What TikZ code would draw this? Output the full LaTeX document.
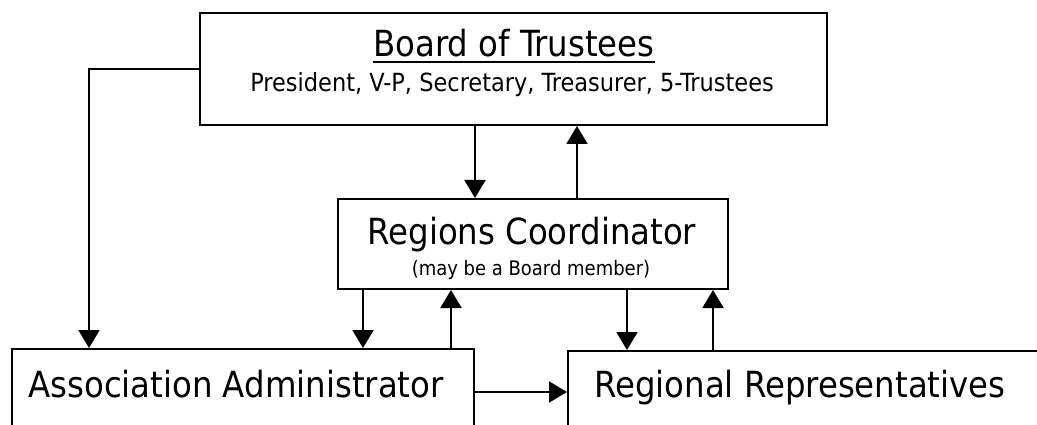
\documentclass[tikz,border=0pt]{standalone}
\usepackage{fontspec}
\setmainfont{DejaVu Sans Condensed}
\usetikzlibrary{arrows.meta}
\tikzset{
  box/.style={draw, line width=2pt, inner sep=0pt, anchor=north west},
  conn/.style={line width=2pt, -{Triangle[width=21pt,length=18pt]}},
  big/.style={font=\fontsize{36}{40}\selectfont, inner sep=0pt, anchor=base},
  subA/.style={font=\fontsize{25}{28}\selectfont, inner sep=0pt, anchor=base},
  subB/.style={font=\fontsize{20}{24}\selectfont, inner sep=0pt, anchor=base},
}
\begin{document}
\begin{tikzpicture}[x=1pt,y=-1pt]
\useasboundingbox (0,0) rectangle (1037,425);
\clip (0,0) rectangle (1037,425);
% boxes
\node[box, minimum width=627pt, minimum height=112pt] (board) at (199,12) {};
\node[box, minimum width=390pt, minimum height=90pt] (rc) at (337,198) {};
\node[box, minimum width=462pt, minimum height=120pt] (admin) at (11,348) {};
\node[box, minimum width=600pt, minimum height=120pt] (rr) at (567,350) {};
% texts
\node[big] (bt) at (514,57) {Board of Trustees};
\draw[line width=1.5pt] ([yshift=-5pt]bt.base west) -- ([yshift=-5pt]bt.base east);
\node[subA] (bs) at (512,92) {President, V-P, Secretary, Treasurer, 5-Trustees};
\node[big] (rct) at (532,244) {Regions Coordinator};
\node[subB] (rcs) at (531,275) {(may be a Board member)};
\node[big] (at) at (236,397) {Association Administrator};
\node[big] (rrt) at (800,397) {Regional Representatives};
% connectors
\draw[conn] (board.west) -| ([xshift=78pt]admin.north west);
\draw[conn] ([xshift=276pt]board.south west) -- ([xshift=138pt]rc.north west);
\draw[conn] ([xshift=240pt]rc.north west) -- ([xshift=378pt]board.south west);
\draw[conn] ([xshift=26pt]rc.south west) -- ([xshift=352pt]admin.north west);
\draw[conn] ([xshift=440pt]admin.north west) -- ([xshift=114pt]rc.south west);
\draw[conn] ([xshift=290pt]rc.south west) -- ([xshift=60pt]rr.north west);
\draw[conn] ([xshift=146pt]rr.north west) -- ([xshift=376pt]rc.south west);
\draw[conn] ([yshift=-44pt]admin.north east) -- ([yshift=-42pt]rr.north west);
\end{tikzpicture}
\end{document}
